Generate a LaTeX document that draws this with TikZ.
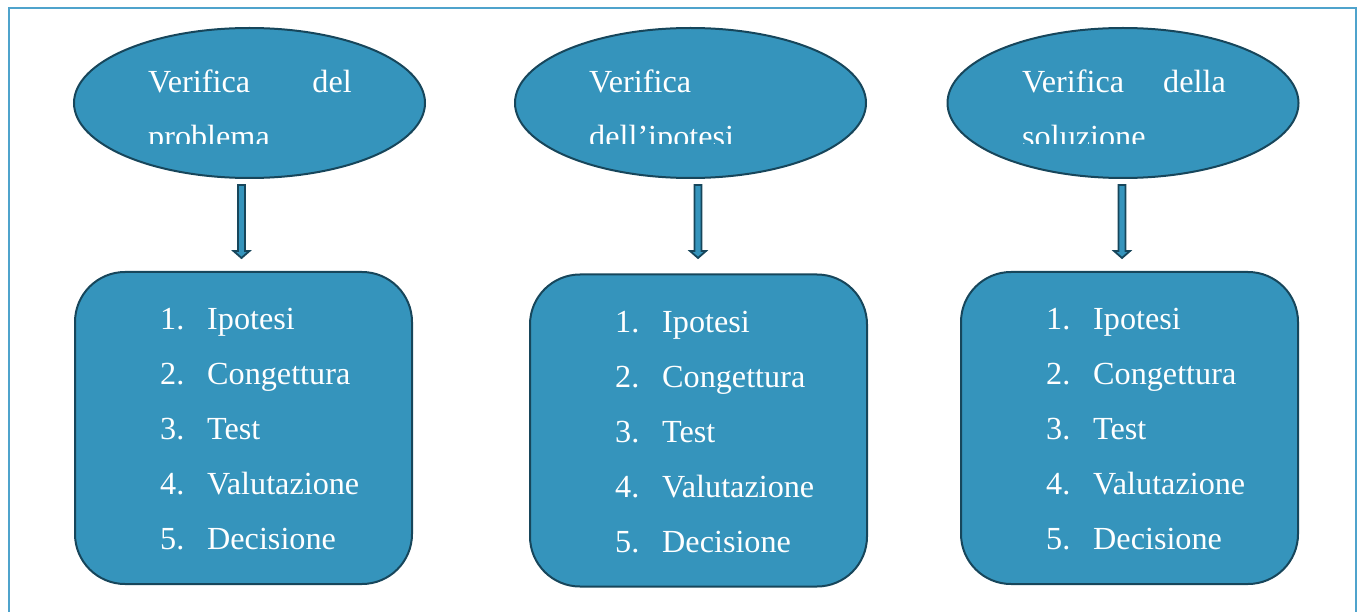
\documentclass[tikz,border=0pt]{standalone}
\usepackage{fontspec}
\setmainfont{Liberation Serif}
\usetikzlibrary{calc,shapes.geometric}
\definecolor{fillblue}{HTML}{3594BC}
\definecolor{edgeblue}{HTML}{17465B}
\definecolor{framecol}{HTML}{4FA3CC}
\tikzset{
  ell/.style={ellipse, draw=edgeblue, fill=fillblue, line width=2pt, minimum width=351, minimum height=150, inner sep=0pt},
  rbox/.style={draw=edgeblue, fill=fillblue, line width=2pt, rounded corners=50pt, minimum width=337, minimum height=312, inner sep=0pt},
  txt/.style={text=white, font=\fontsize{32.2}{36}\selectfont, anchor=base west, inner sep=0pt},
  txtr/.style={txt, anchor=base east},
  arrowst/.style={draw=edgeblue, fill=fillblue, line width=1.8pt, line join=miter}
}
\newcommand\hollowarrow[2]{%
  \draw[arrowst] ($(#1)+(-3.5,0)$) -- ($(#1)+(3.5,0)$) -- ($(#2)+(3.5,-7)$) -- ($(#2)+(8,-7)$) -- (#2) -- ($(#2)+(-8,-7)$) -- ($(#2)+(-3.5,-7)$) -- cycle;}
\begin{document}
\begin{tikzpicture}[x=1pt,y=-1pt]
\useasboundingbox (0,0) rectangle (1362,612);
\draw[framecol, line width=2pt] (9,640) -- (9,8) -- (1356,8) -- (1356,640);
% ellipses
\node[ell] (e1) at (249.5,103) {};
\node[ell] (e2) at (690.5,103) {};
\node[ell] (e3) at (1123,103) {};
\begin{scope}
\clip (0,0) rectangle (1362,144);
\node[txt] (t1a) at (148,92.5) {Verifica};
\node[txtr] (t1b) at (352,92.5) {del};
\node[txt] (t1c) at (148,147.5) {problema};
\node[txt] (t2a) at (589,92.5) {Verifica};
\node[txt] (t2c) at (589,147.5) {dell’ipotesi};
\node[txt] (t3a) at (1022,92.5) {Verifica};
\node[txtr] (t3b) at (1226,92.5) {della};
\node[txt] (t3c) at (1022,147.5) {soluzione};
\end{scope}
% boxes
\node[rbox] (b1) at (243.5,428) {};
\node[rbox] (b2) at (698.5,430.5) {};
\node[rbox] (b3) at (1129.5,428) {};
% arrows
\coordinate (a1t) at (241.5,185); \coordinate (a1b) at (241.5,258);
\coordinate (a2t) at (698,185); \coordinate (a2b) at (698,258);
\coordinate (a3t) at (1122,185); \coordinate (a3b) at (1122,258);
\hollowarrow{a1t}{a1b}
\hollowarrow{a2t}{a2b}
\hollowarrow{a3t}{a3b}
% lists
\foreach \b/\nx/\tx/\by in {1/160/207/329.5, 2/615/662/332, 3/1046/1093/329.5}{
  \node[txt] (n\b1) at (\nx,\by) {1.};
  \node[txt] (l\b1) at (\tx,\by) {Ipotesi};
  \node[txt] (n\b2) at (\nx,\by+55) {2.};
  \node[txt] (l\b2) at (\tx,\by+55) {Congettura};
  \node[txt] (n\b3) at (\nx,\by+110) {3.};
  \node[txt] (l\b3) at (\tx,\by+110) {Test};
  \node[txt] (n\b4) at (\nx,\by+165) {4.};
  \node[txt] (l\b4) at (\tx,\by+165) {Valutazione};
  \node[txt] (n\b5) at (\nx,\by+220) {5.};
  \node[txt] (l\b5) at (\tx,\by+220) {Decisione};
}
\end{tikzpicture}
\end{document}
